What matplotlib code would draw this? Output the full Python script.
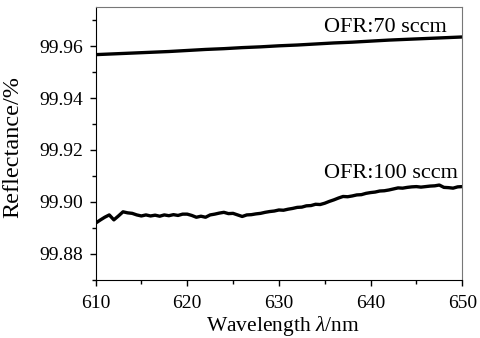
import matplotlib
matplotlib.use('Agg')
import matplotlib.pyplot as plt
from matplotlib.ticker import MultipleLocator

plt.rcParams['font.family'] = 'Liberation Serif'
plt.rcParams['mathtext.fontset'] = 'custom'
plt.rcParams['mathtext.rm'] = 'Liberation Serif'
plt.rcParams['mathtext.it'] = 'Liberation Serif:italic'

# OFR 70 sccm, every 2 nm
wl_70 = [610, 612, 614, 616, 618, 620, 622, 624, 626, 628, 630,
         632, 634, 636, 638, 640, 642, 644, 646, 648, 650]
r_70 = [99.9567, 99.9570, 99.9573, 99.9576, 99.9579, 99.9583, 99.9587,
        99.9590, 99.9594, 99.9597, 99.9601, 99.9604, 99.9608, 99.9612,
        99.9615, 99.9619, 99.9623, 99.9626, 99.9629, 99.9632, 99.9635]

# OFR 100 sccm, every 0.5 nm
wl_100 = [610 + 0.5 * i for i in range(81)]
r_100 = [99.8918, 99.8930, 99.8941, 99.8950, 99.8931, 99.8946, 99.8962, 99.8958,
         99.8956, 99.8950, 99.8946, 99.8950, 99.8946, 99.8949, 99.8945, 99.8950,
         99.8947, 99.8951, 99.8948, 99.8953, 99.8953, 99.8948, 99.8941, 99.8945,
         99.8941, 99.8950, 99.8953, 99.8957, 99.8960, 99.8955, 99.8956, 99.8950,
         99.8944, 99.8950, 99.8951, 99.8954, 99.8956, 99.8960, 99.8963, 99.8965,
         99.8969, 99.8968, 99.8972, 99.8975, 99.8979, 99.8980, 99.8985, 99.8986,
         99.8991, 99.8990, 99.8995, 99.9002, 99.9008, 99.9015, 99.9021, 99.9020,
         99.9023, 99.9027, 99.9028, 99.9033, 99.9036, 99.9038, 99.9042, 99.9043,
         99.9046, 99.9050, 99.9054, 99.9053, 99.9056, 99.9058, 99.9059, 99.9057,
         99.9059, 99.9061, 99.9062, 99.9065, 99.9056, 99.9055, 99.9053, 99.9058,
         99.9059]

fig = plt.figure(figsize=(4.8, 3.38), dpi=100)
ax = fig.add_axes([0.199, 0.172, 0.764, 0.807])

ax.plot(wl_70, r_70, color='black', lw=2.4)
ax.plot(wl_100, r_100, color='black', lw=2.4)

ax.text(648.3, 99.9654, 'OFR:70 sccm', ha='right', va='baseline', fontsize=16)
ax.text(649.5, 99.9091, 'OFR:100 sccm', ha='right', va='baseline', fontsize=16)

ax.set_xlim(610, 650)
ax.set_ylim(99.87, 99.975)
ax.xaxis.set_major_locator(MultipleLocator(10))
ax.xaxis.set_minor_locator(MultipleLocator(5))
ax.yaxis.set_major_locator(MultipleLocator(0.02))
ax.yaxis.set_minor_locator(MultipleLocator(0.01))
ax.yaxis.set_major_formatter(plt.FormatStrFormatter('%.2f'))
ax.tick_params(which='major', length=4, width=1, labelsize=14)
ax.tick_params(which='minor', length=3, width=1)
ax.tick_params(axis='x', pad=7)
ax.tick_params(axis='y', pad=5)

for s in ['top', 'right']:
    ax.spines[s].set_color('#777777')

ax.set_xlabel(r'Wavelength $\lambda$/nm', fontsize=15.5)
ax.xaxis.set_label_coords(0.51, -0.126)
ax.set_ylabel('Reflectance/%', fontsize=17.5)
ax.yaxis.set_label_coords(-0.198, 0.487)

fig.savefig('out.png', dpi=100)
